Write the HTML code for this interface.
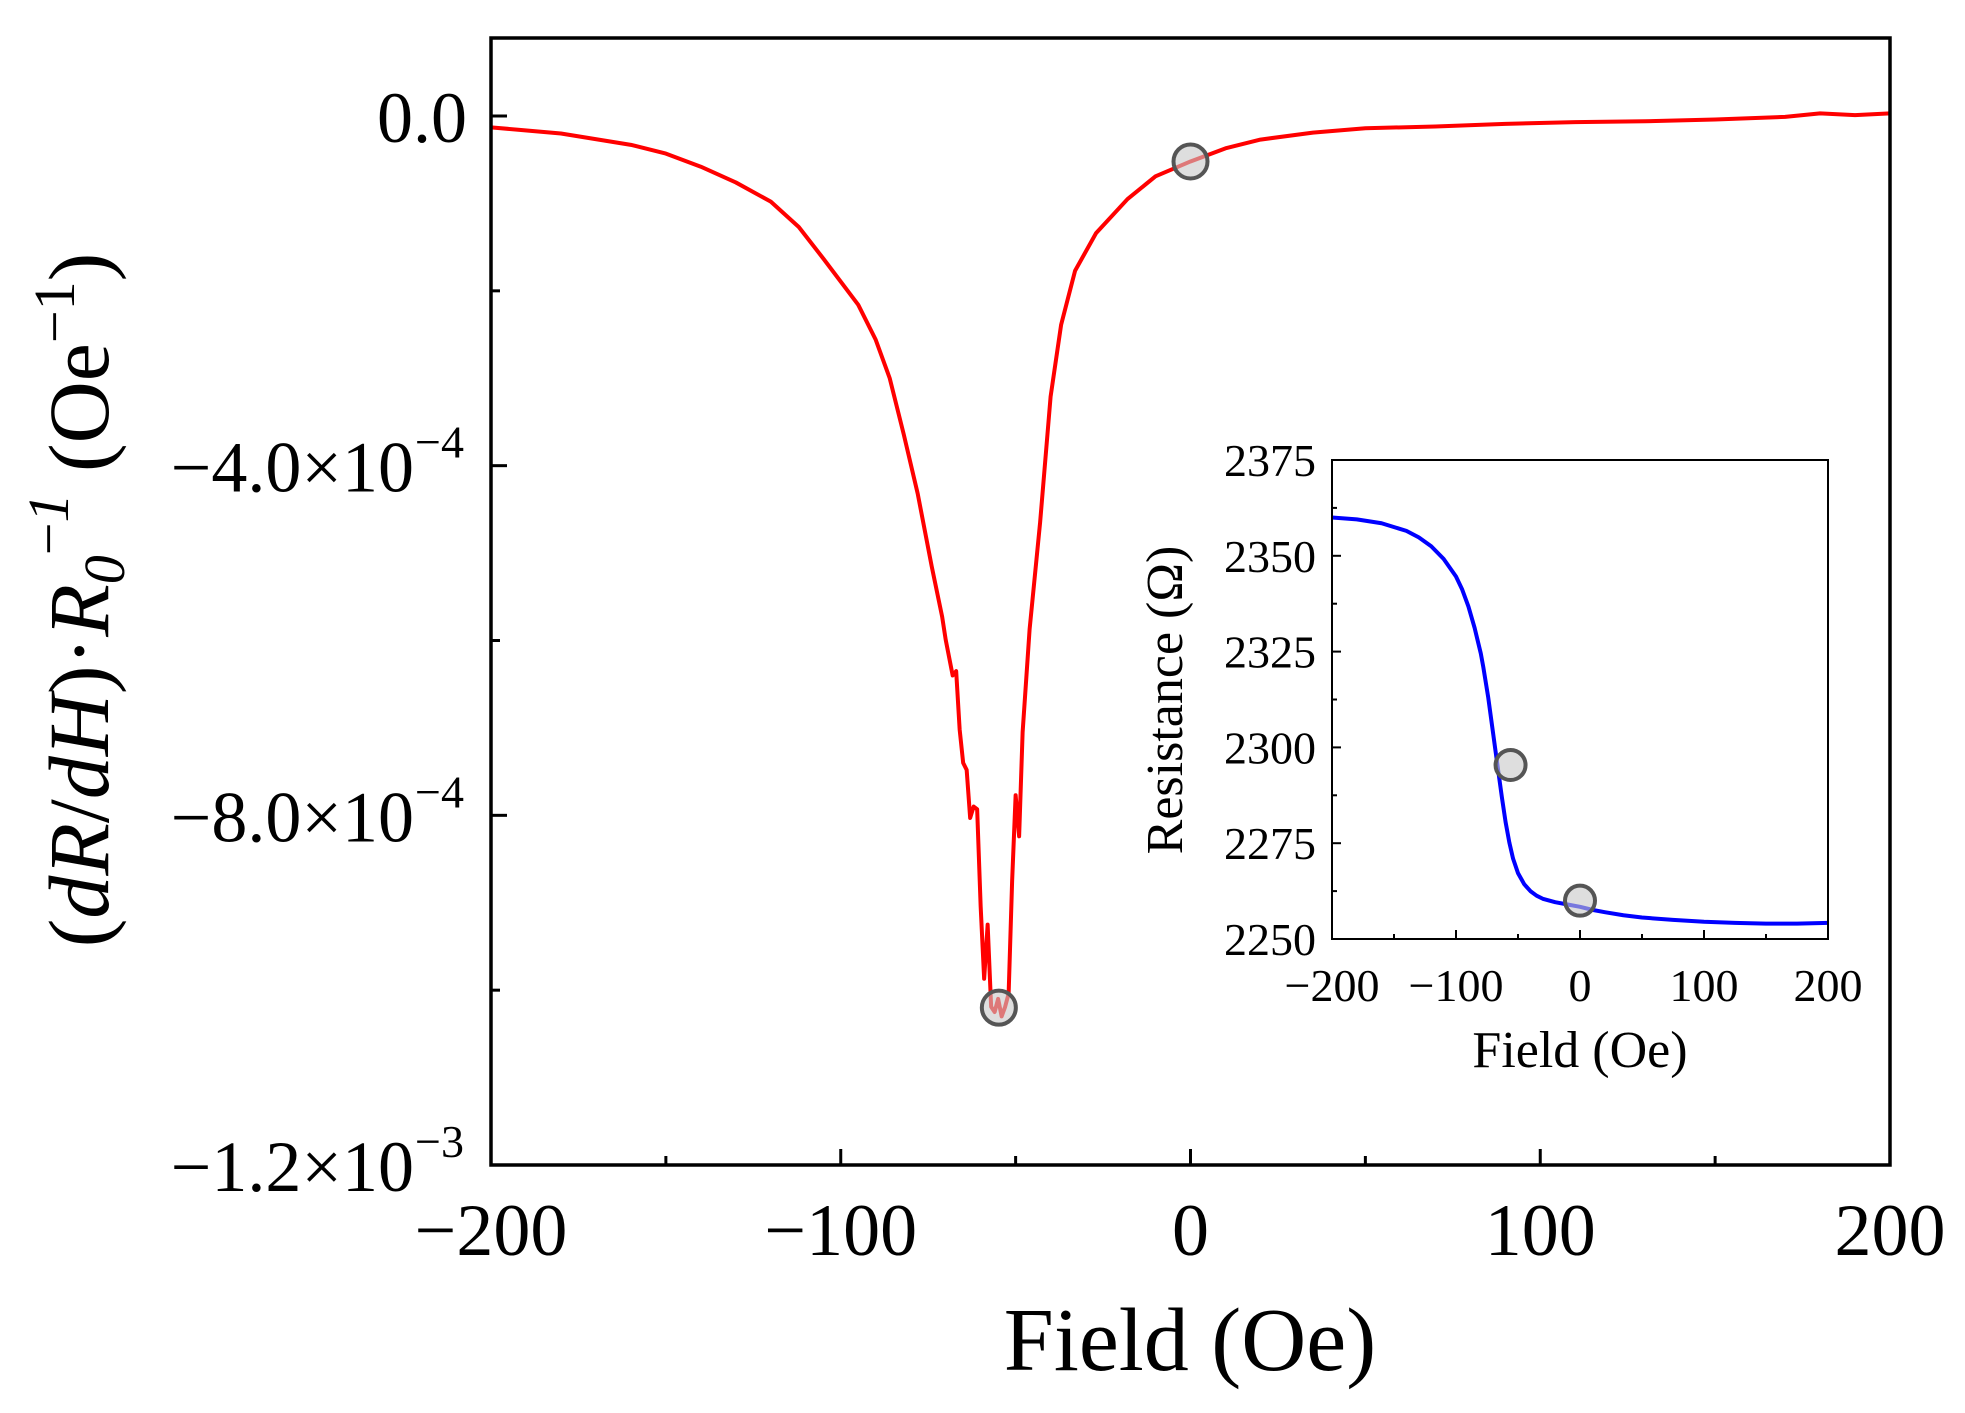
<!DOCTYPE html>
<html><head><meta charset="utf-8"><style>
html,body{margin:0;padding:0;background:#fff;}
svg{display:block;font-family:"Liberation Serif",serif;}
</style></head><body>
<svg id="chart" width="1965" height="1413" viewBox="0 0 1965 1413" xmlns="http://www.w3.org/2000/svg">
<rect width="1965" height="1413" fill="#fff"/>
<g id="main"></g>
<g id="inset"></g>
<text x="1190" y="1370" font-size="90" text-anchor="middle">Field (Oe)</text>
<text transform="translate(108,600) rotate(-90)" font-size="86" text-anchor="middle">(<tspan font-style="italic">dR</tspan>/<tspan font-style="italic">dH</tspan>)·<tspan font-style="italic">R</tspan><tspan font-style="italic" font-size="58" dy="16">0</tspan><tspan font-size="58" dy="-56">−<tspan font-style="italic">1</tspan></tspan><tspan dy="40"> (Oe</tspan><tspan font-size="58" dy="-34">−1</tspan><tspan dy="34">)</tspan></text>
<text x="1580" y="1067" font-size="52" text-anchor="middle">Field (Oe)</text>
<text transform="translate(1182,700) rotate(-90)" font-size="52" text-anchor="middle">Resistance (Ω)</text>
</svg>
<script>
const mainX = [-200,-180,-160,-150,-140,-130,-120,-112,-105,-95,-90,-86,-82,-78,-74,-71,-70,-68,-67,-66,-65,-64,-63,-62,-61,-60,-59,-58,-57,-56,-55,-54,-53,-52,-51,-50,-49,-48,-46,-43,-40,-37,-33,-27,-18,-10,0,10,20,35,50,70,90,110,130,150,170,180,190,200];
const mainY = [-0.13,-0.2,-0.33,-0.43,-0.58,-0.76,-0.98,-1.27,-1.63,-2.16,-2.56,-3.0,-3.64,-4.32,-5.15,-5.73,-5.99,-6.4,-6.35,-7.02,-7.4,-7.48,-8.03,-7.9,-7.93,-9.04,-9.87,-9.25,-10.19,-10.25,-10.1,-10.3,-10.19,-10.04,-8.75,-7.77,-8.24,-7.05,-5.87,-4.65,-3.21,-2.39,-1.77,-1.34,-0.95,-0.69,-0.52,-0.37,-0.27,-0.19,-0.14,-0.12,-0.09,-0.07,-0.06,-0.04,-0.01,0.03,0.01,0.03];
const mainMarkX = [0,-54.8];
const mainMarkY = [-0.52,-10.2];
const mainXTicks = [-200,-100,0,100,200];
const mainYTicks = [0,-4,-8,-12];
const mainYTickLabels = ["0.0","−4.0×10","−8.0×10","−1.2×10"];
const mainYTickExp = ["","−4","−4","−3"];
const insetX = [-200,-180,-160,-140,-130,-120,-110,-100,-95,-90,-85,-80,-78,-74,-70,-66,-63,-60,-57,-54,-50,-45,-40,-35,-30,-20,-10,0,10,20,35,50,75,100,125,150,175,200];
const insetY = [2360,2359.5,2358.5,2356.5,2354.8,2352.5,2349.2,2344.6,2341.2,2336.8,2331.2,2324.5,2321,2313,2303.5,2294,2287,2280.5,2275.2,2271,2267.2,2264.3,2262.5,2261.3,2260.5,2259.6,2259,2258.4,2257.6,2257,2256.2,2255.6,2255,2254.5,2254.2,2254,2254,2254.2];
const insetMarkX = [-56,0];
const insetMarkY = [2295.4,2260];
const insetXTicks = [-200,-100,0,100,200];
const insetYTicks = [2250,2275,2300,2325,2350,2375];

const NS="http://www.w3.org/2000/svg";
function mk(p,t,a){const e=document.createElementNS(NS,t);for(const k in a)e.setAttribute(k,a[k]);p.appendChild(e);return e;}
const M={l:491,r:1890,t:38,b:1165};
const mx=v=>M.l+(v+200)/400*(M.r-M.l);
const my=v=>116+(-v)/12*(1165-116);
const gm=document.getElementById('main');
mainXTicks.forEach((v,i)=>{
 let t=mk(gm,'line',{x1:mx(v),x2:mx(v),y1:M.b,y2:M.b-16,stroke:'#000','stroke-width':3});
 
 if(i<mainXTicks.length-1){let m=mk(gm,'line',{x1:mx(v+50),x2:mx(v+50),y1:M.b,y2:M.b-9,stroke:'#000','stroke-width':3});
 }
 let l=mk(gm,'text',{x:mx(v),y:1255,'font-size':74,'text-anchor':'middle'});l.textContent=(v<0?'−':'')+Math.abs(v);
 
});
mainYTicks.forEach((v,i)=>{
 let t=mk(gm,'line',{x1:M.l,x2:M.l+16,y1:my(v),y2:my(v),stroke:'#000','stroke-width':3});
 
 if(i<mainYTicks.length-1){let m=mk(gm,'line',{x1:M.l,x2:M.l+9,y1:my(v-2),y2:my(v-2),stroke:'#000','stroke-width':3});
 }
 let l=mk(gm,'text',{x:i==0?467:414,y:my(v)+26,'font-size':72,'text-anchor':'end'});l.textContent=mainYTickLabels[i];
 
 if(mainYTickExp[i]){let s=mk(gm,'text',{x:415,y:my(v)-8,'font-size':46});s.textContent=mainYTickExp[i];
 }
});
let p=mk(gm,'polyline',{points:mainX.map((x,i)=>mx(x)+','+my(mainY[i])).join(' '),fill:'none',stroke:'#ff0000','stroke-width':4,'stroke-linejoin':'round'});

mainMarkX.forEach((x,i)=>{let c=mk(gm,'circle',{cx:mx(x),cy:my(mainMarkY[i]),r:17,fill:'rgba(200,200,200,0.6)',stroke:'#555','stroke-width':4});
});
let f=mk(gm,'rect',{x:M.l,y:M.t,width:M.r-M.l,height:M.b-M.t,fill:'none',stroke:'#000','stroke-width':3.5});

const I={l:1332,r:1828,t:460,b:939};
const ix=v=>I.l+(v+200)/400*(I.r-I.l);
const iy=v=>I.b-(v-2250)/125*(I.b-I.t);
const gi=document.getElementById('inset');
insetXTicks.forEach((v,i)=>{
 let t=mk(gi,'line',{x1:ix(v),x2:ix(v),y1:I.b,y2:I.b-9,stroke:'#000','stroke-width':2});
 
 if(i<insetXTicks.length-1){let m=mk(gi,'line',{x1:ix(v+50),x2:ix(v+50),y1:I.b,y2:I.b-5,stroke:'#000','stroke-width':2});
 }
 let l=mk(gi,'text',{x:ix(v),y:1001,'font-size':46,'text-anchor':'middle'});l.textContent=(v<0?'−':'')+Math.abs(v);
 
});
insetYTicks.forEach((v,i)=>{
 let t=mk(gi,'line',{x1:I.l,x2:I.l+9,y1:iy(v),y2:iy(v),stroke:'#000','stroke-width':2});
 
 if(i<insetYTicks.length-1){let m=mk(gi,'line',{x1:I.l,x2:I.l+5,y1:iy(v+12.5),y2:iy(v+12.5),stroke:'#000','stroke-width':2});
 }
 let l=mk(gi,'text',{x:1316,y:iy(v)+16,'font-size':46,'text-anchor':'end'});l.textContent=v;
 
});
let q=mk(gi,'polyline',{points:insetX.map((x,i)=>ix(x)+','+iy(insetY[i])).join(' '),fill:'none',stroke:'#0000ff','stroke-width':4,'stroke-linejoin':'round'});

insetMarkX.forEach((x,i)=>{let c=mk(gi,'circle',{cx:ix(x),cy:iy(insetMarkY[i]),r:15,fill:'rgba(200,200,200,0.6)',stroke:'#555','stroke-width':4});
});
let g=mk(gi,'rect',{x:I.l,y:I.t,width:I.r-I.l,height:I.b-I.t,fill:'none',stroke:'#000','stroke-width':2});

</script>
</body></html>
